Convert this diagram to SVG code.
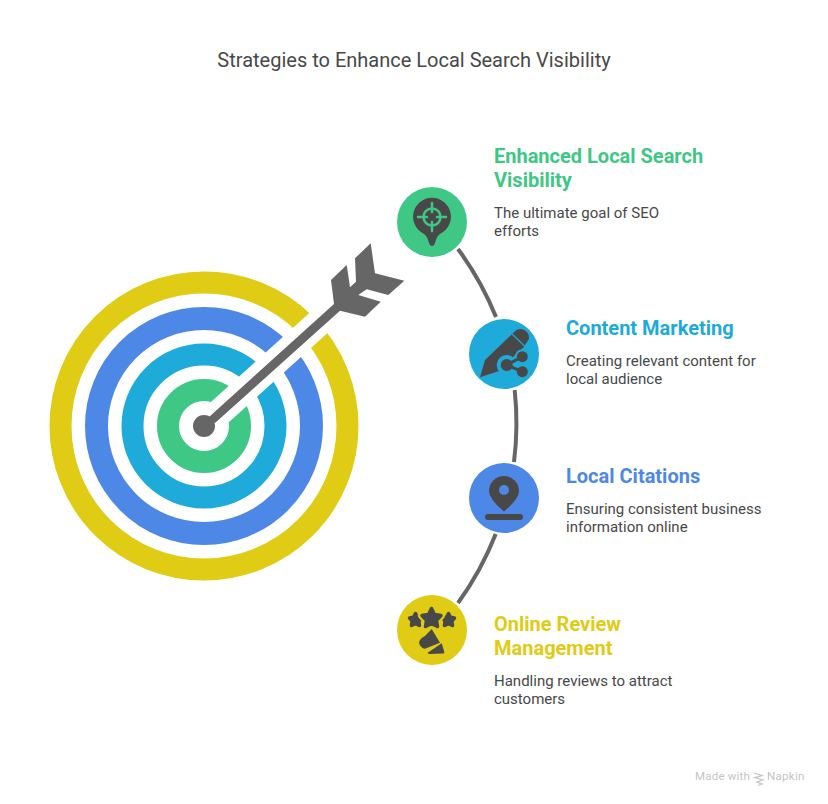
<svg xmlns="http://www.w3.org/2000/svg" width="828" height="804" viewBox="0 0 828 804">
<style>
text{font-family:Roboto,"Liberation Sans",sans-serif}
.t{font-size:20px;fill:#484848}
.h{font-size:20px;font-weight:700}
.b{font-size:15px;fill:#484848}
.r{fill:none}
.c{fill:none;stroke:#666;stroke-width:4}
.d{fill:#484848}
.g{fill:#3ec785}.cy{fill:#1eabda}.bl{fill:#4e88e7}.y{fill:#e0cb15}
</style>
<rect width="828" height="804" fill="#fff"/>
<text class="t" x="414" y="66.500" text-anchor="middle">Strategies to Enhance Local Search Visibility</text>
<g id="target">
<circle class="r" cx="204" cy="426" r="143.500" stroke="#e0cb15" stroke-width="22"/>
<circle class="r" cx="204" cy="426" r="107.500" stroke="#4e88e7" stroke-width="23"/>
<circle class="r" cx="204" cy="426" r="71.500" stroke="#1eabda" stroke-width="22"/>
<circle class="r" cx="204" cy="426" r="36" stroke="#3ec785" stroke-width="22"/>
<path d="M204 426.500L345 299" stroke="#fff" stroke-width="27" fill="none"/>
<path fill="#666" d="M209 417L334 304L331 280L346.700 265L350 287.300L356 281.700L355 258.300L370.700 243.300L375 273.300L404.300 280.700L388.300 295L366.700 289.300L358.300 295L380.700 301.700L365 316.700L340 310.700L215 423Z"/>
<circle cx="204" cy="426" r="11" fill="#666"/>
</g>
<g id="connectors">
<path class="c" d="M458 249A312 312 0 0 1 496 317"/>
<path class="c" d="M514.700 390A312 312 0 0 1 514 462"/>
<path class="c" d="M495.700 534A312 312 0 0 1 458 603"/>
</g>
<g id="node-visibility">
<circle class="g" cx="432" cy="222" r="35"/>
<path class="d" d="M432 197.700a19 19 0 0 1 8 36.200q-3 1.500-5 9l-1.500 2.800h-3l-1.500-2.800q-2-7.500-5-9a19 19 0 0 1 8-36.200Z"/>
<g fill="none" stroke="#3ec785" stroke-width="2.500" stroke-linecap="round">
<circle cx="432" cy="217" r="8.500"/>
<path d="M418 217h9M437 217h9M432 203v9M432 222v9"/>
</g>
<text class="h g" x="494" y="163">Enhanced Local Search</text>
<text class="h g" x="494" y="187">Visibility</text>
<text class="b" x="494" y="218">The ultimate goal of SEO</text>
<text class="b" x="494" y="236">efforts</text>
</g>
<g id="node-content">
<circle class="cy" cx="504" cy="354" r="35"/>
<path class="d" d="M480 377.300L485 360L511.700 334.500L524.300 346.700L512 358L499 371Z"/>
<path class="d" d="M512.500 333.500L516.500 330a8.500 8.500 0 0 1 12.200 9.300L524.800 345.500Z"/>
<circle class="cy" cx="506.700" cy="365" r="10"/>
<path d="M522.300 356.700L506.700 365L522.300 371.700" fill="none" stroke="#1eabda" stroke-width="7"/>
<circle class="cy" cx="522.300" cy="356.700" r="7.500"/>
<g class="d"><circle cx="522.300" cy="356.700" r="5.500"/><circle cx="506.700" cy="365" r="6"/><circle cx="522.300" cy="371.700" r="5.500"/></g>
<path d="M522.300 356.700L506.700 365L522.300 371.700" fill="none" stroke="#484848" stroke-width="3"/>
<text class="h cy" x="566" y="335">Content Marketing</text>
<text class="b" x="566" y="366">Creating relevant content for</text>
<text class="b" x="566" y="384">local audience</text>
</g>
<g id="node-citations">
<circle class="bl" cx="504" cy="498" r="35"/>
<path class="d" d="M504 476a15 15 0 0 1 15 15q0 8-15 20.500q-15-12.500-15-20.500a15 15 0 0 1 15-15Z"/>
<circle class="bl" cx="504" cy="490" r="5"/>
<rect class="d" x="485" y="514" width="38" height="6" rx="3"/>
<text class="h bl" x="566" y="483">Local Citations</text>
<text class="b" x="566" y="514">Ensuring consistent business</text>
<text class="b" x="566" y="532">information online</text>
</g>
<g id="node-reviews">
<circle class="y" cx="432" cy="630" r="35"/>
<g class="d" stroke="#484848" stroke-width="3.500" stroke-linejoin="round">
<path d="M415.500 613.500L417.500 617.300L421.500 618L418.800 621L419.500 625.500L415.500 623.600L411.500 625.500L412 621L409.500 618L413.500 617.300Z"/>
<path d="M448.500 613.500L450.500 617.300L454.500 618L451.800 621L452.500 625.500L448.500 623.600L444.500 625.500L445 621L442.500 618L446.500 617.300Z"/>
</g>
<path d="M431.500 608.500L434.500 614.500L441 615.500L436.500 620.300L437.500 626.500L431.500 623.700L425.500 626.500L426.500 620.300L422 615.500L428.500 614.500Z" fill="#484848" stroke="#e0cb15" stroke-width="8" stroke-linejoin="round"/>
<path d="M431.500 608.500L434.500 614.500L441 615.500L436.500 620.300L437.500 626.500L431.500 623.700L425.500 626.500L426.500 620.300L422 615.500L428.500 614.500Z" fill="#484848" stroke="#484848" stroke-width="3.500" stroke-linejoin="round"/>
<path class="d" d="M431.700 629L440 642.700L425.500 648.500Q424 649 422.500 648L420.500 646Q418 643 420 640Q421.500 637.500 425 636Z"/>
<path class="d" d="M427.700 652.700L441.700 643.300L444.300 652Q444.500 653.500 443 653.500L428.500 654Z"/>
<text class="h y" x="494" y="631">Online Review</text>
<text class="h y" x="494" y="655">Management</text>
<text class="b" x="494" y="686">Handling reviews to attract</text>
<text class="b" x="494" y="704">customers</text>
</g>
<g id="watermark">
<text x="695" y="780" font-size="11.500" fill="#c4c4c4" letter-spacing=".2">Made with</text>
<path d="M754 773l8 2.500-7 2 8 2.500-6 2 5 2-4 1.500" fill="none" stroke="#c4c4c4" stroke-width="1.300"/>
<text x="767" y="780" font-size="11.500" fill="#c4c4c4" letter-spacing=".3">Napkin</text>
</g>
</svg>
